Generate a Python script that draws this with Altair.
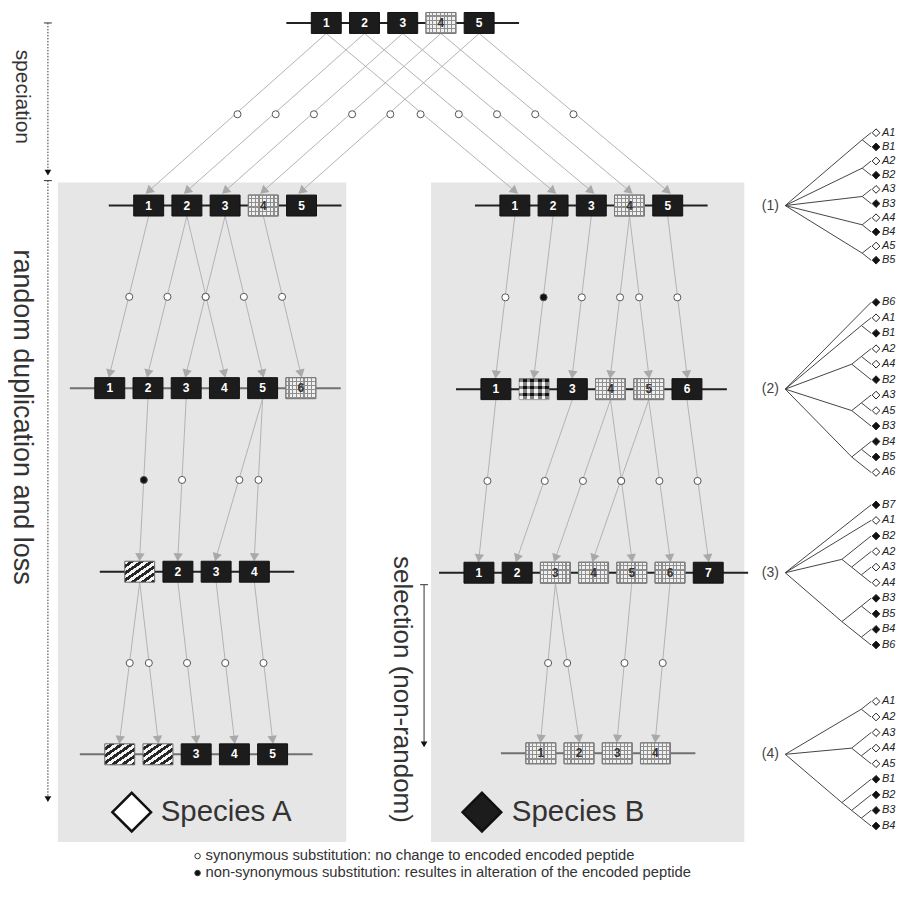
import math
import altair as alt
import pandas as pd

# ---------------- gene rows ----------------
ROW_NAMES = ["T", "A1", "A2", "A3", "A4", "B1", "B2", "B3", "B4"]
ROW_Y = [22, 205, 388, 572, 755, 205, 389, 573, 754]
ROW_FIRST_X = [327, 149, 110, 140, 120, 516, 497, 480, 542]
# K = black exon, G = grid-patterned, H = hatched, C = checkered
ROW_TYPES = ["KKKGK", "KKKGK", "KKKKKG", "HKKK", "HHKKK", "KKKGK", "KCKGGK", "KKGGGGK", "GGGG"]
ROW_LABELS = [
    ["1", "2", "3", "4", "5"],
    ["1", "2", "3", "4", "5"],
    ["1", "2", "3", "4", "5", "6"],
    ["", "2", "3", "4"],
    ["", "", "3", "4", "5"],
    ["1", "2", "3", "4", "5"],
    ["1", "", "3", "4", "5", "6"],
    ["1", "2", "3", "4", "5", "6", "7"],
    ["1", "2", "3", "4"],
]
ROW_LINE_COLOR = ["#222", "#222", "#707070", "#222", "#707070", "#222", "#222", "#222", "#707070"]

# (from row, from box, to row, to box, substitution: s = synonymous, n = non-synonymous)
ARROWS = [
    ("T", 0, "A1", 0, "s"), ("T", 1, "A1", 1, "s"), ("T", 2, "A1", 2, "s"), ("T", 3, "A1", 3, "s"), ("T", 4, "A1", 4, "s"),
    ("T", 0, "B1", 0, "s"), ("T", 1, "B1", 1, "s"), ("T", 2, "B1", 2, "s"), ("T", 3, "B1", 3, "s"), ("T", 4, "B1", 4, "s"),
    ("A1", 0, "A2", 0, "s"), ("A1", 1, "A2", 1, "s"), ("A1", 1, "A2", 3, "s"), ("A1", 2, "A2", 2, "s"), ("A1", 2, "A2", 4, "s"), ("A1", 3, "A2", 5, "s"),
    ("A2", 1, "A3", 0, "n"), ("A2", 2, "A3", 1, "s"), ("A2", 4, "A3", 2, "s"), ("A2", 4, "A3", 3, "s"),
    ("A3", 0, "A4", 0, "s"), ("A3", 0, "A4", 1, "s"), ("A3", 1, "A4", 2, "s"), ("A3", 2, "A4", 3, "s"), ("A3", 3, "A4", 4, "s"),
    ("B1", 0, "B2", 0, "s"), ("B1", 1, "B2", 1, "n"), ("B1", 2, "B2", 2, "s"), ("B1", 3, "B2", 3, "s"), ("B1", 3, "B2", 4, "s"), ("B1", 4, "B2", 5, "s"),
    ("B2", 0, "B3", 0, "s"), ("B2", 2, "B3", 1, "s"), ("B2", 3, "B3", 2, "s"), ("B2", 4, "B3", 3, "s"), ("B2", 3, "B3", 4, "s"), ("B2", 4, "B3", 5, "s"), ("B2", 5, "B3", 6, "s"),
    ("B3", 2, "B4", 0, "s"), ("B3", 2, "B4", 1, "s"), ("B3", 4, "B4", 2, "s"), ("B3", 5, "B4", 3, "s"),
]

# ---------------- gene trees ----------------
TREE_LABELS = ["(1)", "(2)", "(3)", "(4)"]
TREE_ROOT_Y = [205, 389, 573, 755]
TREE_LEAF_Y0 = [132, 302, 505, 702]
TREE_LEAF_STEP = [14.2, 15.5, 15.6, 15.6]
TREES = [
    (("A1", "B1"), ("A2", "B2"), ("A3", "B3"), ("A4", "B4"), ("A5", "B5")),
    ("B6", ("A1", "B1"), (("A2", "A4"), "B2"), (("A3", "A5"), "B3"), (("B4", "B5"), "A6")),
    ("B7", "A1", ("B2", ("A2", ("A3", "A4"))), (("B3", "B5"), ("B4", "B6"))),
    (("A1", "A2"), ("A3", ("A4", "A5")), ("B1", ("B2", ("B3", "B4")))),
]

LEGEND_TEXT = [
    "synonymous substitution: no change to encoded encoded peptide",
    "non-synonymous substitution: resultes in alteration of the encoded peptide",
]
SIDE_TEXT = ["speciation", "random duplication and loss", "selection (non-random)"]
SPECIES_TEXT = ["Species A", "Species B"]

# ---------------- layout constants ----------------
BOX_STEP, BOX_W, BOX_H, LINE_EXT = 38.3, 30, 21, 40
ROOT_X, LEAF_X, TREE_K = 787, 873, 1.25
FONT = "Liberation Sans"

XS = alt.Scale(domain=[8, 896], nice=False, zero=False)
YS = alt.Scale(domain=[8, 892], nice=False, zero=False, reverse=True)


def X(f="x"):
    return alt.X(f + ":Q", scale=XS, axis=None)


def Y(f="y"):
    return alt.Y(f + ":Q", scale=YS, axis=None)


# boxes & row lines
box_rows, line_rows = [], []
centers = {}
for r, name in enumerate(ROW_NAMES):
    types = ROW_TYPES[r]
    cy = ROW_Y[r]
    for i, t in enumerate(types):
        cx = ROW_FIRST_X[r] + i * BOX_STEP
        centers[(name, i)] = (cx, cy)
        box_rows.append(dict(cx=cx, cy=cy, x=cx - BOX_W / 2, x2=cx + BOX_W / 2,
                             y=cy - BOX_H / 2, y2=cy + BOX_H / 2, type=t,
                             label=ROW_LABELS[r][i],
                             tcolor="white" if t == "K" else "#333"))
    line_rows.append(dict(x=ROW_FIRST_X[r] - LINE_EXT,
                          x2=ROW_FIRST_X[r] + (len(types) - 1) * BOX_STEP + LINE_EXT,
                          y=cy, y2=cy, c=ROW_LINE_COLOR[r]))
boxes = pd.DataFrame(box_rows)
lines = pd.DataFrame(line_rows)

arr_rows = []
for fr, fi, tr, ti, kind in ARROWS:
    sx, sy = centers[(fr, fi)]
    ex, ey = centers[(tr, ti)]
    y0 = sy + BOX_H / 2
    y1 = ey - BOX_H / 2 - 4
    ang = math.degrees(math.atan2(-(ex - sx), (y1 - y0))) % 360
    arr_rows.append(dict(x=sx, y=y0, x2=ex, y2=y1, mx=(sx + ex) / 2, my=(y0 + y1 + 4) / 2,
                         ang=ang, fill="white" if kind == "s" else "#111"))
arrows = pd.DataFrame(arr_rows)

# trees
edge_rows, leaf_rows, root_rows = [], [], []
for t, tree in enumerate(TREES):
    counter = [0]

    def place(node, t=t, counter=counter):
        if isinstance(node, str):
            y = TREE_LEAF_Y0[t] + TREE_LEAF_STEP[t] * counter[0]
            counter[0] += 1
            leaf_rows.append(dict(x=LEAF_X + 5, lx=LEAF_X + 11, y=y, label=node,
                                  fill="white" if node[0] == "A" else "#111"))
            return LEAF_X, y, y, y
        kids = [place(c) for c in node]
        ymin = min(k[2] for k in kids)
        ymax = max(k[3] for k in kids)
        y = (ymin + ymax) / 2
        x = LEAF_X - TREE_K * (ymax - ymin) / 2
        for k in kids:
            edge_rows.append(dict(x=x, y=y, x2=k[0], y2=k[1]))
        return x, y, ymin, ymax

    kids = [place(c) for c in tree]
    ry = TREE_ROOT_Y[t]
    for k in kids:
        edge_rows.append(dict(x=ROOT_X, y=ry, x2=k[0], y2=k[1]))
    root_rows.append(dict(x=ROOT_X - 15, y=ry, label=TREE_LABELS[t]))
edges = pd.DataFrame(edge_rows)
leaves = pd.DataFrame(leaf_rows)
roots = pd.DataFrame(root_rows)


def stripes(n, c1, c2, frac, x2, y2):
    stops = []
    for i in range(n):
        a, b, c = i / n, (i + frac) / n, (i + 1) / n
        stops += [alt.GradientStop(color=c1, offset=a), alt.GradientStop(color=c1, offset=b),
                  alt.GradientStop(color=c2, offset=b), alt.GradientStop(color=c2, offset=c)]
    return alt.LinearGradient(gradient="linear", stops=stops, x1=0, y1=0, x2=x2, y2=y2)


CLEAR = "rgba(255,255,255,0)"

layers = []

# panels
panels = pd.DataFrame(dict(x=[58, 432], x2=[347, 746], y=[182, 182], y2=[843, 843]))
layers.append(alt.Chart(panels).mark_rect(color="#e6e6e6").encode(
    x=X(), x2="x2:Q", y=Y(), y2="y2:Q"))

# arrows
layers.append(alt.Chart(arrows).mark_rule(color="#b3b3b3", strokeWidth=1).encode(
    x=X(), x2="x2:Q", y=Y(), y2="y2:Q"))
layers.append(alt.Chart(arrows).mark_point(shape="triangle-down", filled=True, size=90,
                                           color="#a9a9a9", opacity=1).encode(
    x=X("x2"), y=Y("y2"), angle=alt.Angle("ang:Q", scale=None)))

# row lines
layers.append(alt.Chart(lines).mark_rule(strokeWidth=2).encode(
    x=X(), x2="x2:Q", y=Y(), y2="y2:Q", color=alt.Color("c:N", scale=None)))

# boxes
enc = dict(x=X(), x2="x2:Q", y=Y(), y2="y2:Q")
kb = boxes[boxes.type == "K"]
gb = boxes[boxes.type == "G"]
hb = boxes[boxes.type == "H"]
cb = boxes[boxes.type == "C"]
layers.append(alt.Chart(kb).mark_rect(fill="#1c1c1c", stroke="#111", strokeWidth=1).encode(**enc))
layers.append(alt.Chart(gb).mark_rect(fill="#f0f0f0", stroke="#7a7a7a", strokeWidth=1).encode(**enc))
layers.append(alt.Chart(gb).mark_rect(fill=stripes(8, CLEAR, "#8f8f8f", 0.7, 1, 0)).encode(**enc))
layers.append(alt.Chart(gb).mark_rect(fill=stripes(5, CLEAR, "#8f8f8f", 0.7, 0, 1),
                                      stroke="#7a7a7a", strokeWidth=1).encode(**enc))
layers.append(alt.Chart(hb).mark_rect(fill=stripes(6, "#f4f4f4", "#262626", 0.5, 1, 1),
                                      stroke="#666", strokeWidth=1).encode(**enc))
layers.append(alt.Chart(cb).mark_rect(fill=stripes(3, "#111", "#f4f4f4", 0.5, 0, 1)).encode(**enc))
layers.append(alt.Chart(cb).mark_rect(fill=stripes(4, "#f4f4f4", "#111", 0.5, 1, 0), opacity=0.5,
                                      stroke="#555", strokeWidth=1).encode(**enc))
layers.append(alt.Chart(boxes).mark_text(font=FONT, fontSize=12, fontWeight="bold",
                                         baseline="middle", align="center").encode(
    x=X("cx"), y=Y("cy"), text="label:N", color=alt.Color("tcolor:N", scale=None)))

# substitution circles
layers.append(alt.Chart(arrows).mark_point(shape="circle", filled=True, size=50, stroke="#555",
                                           strokeWidth=1, opacity=1).encode(
    x=X("mx"), y=Y("my"), fill=alt.Fill("fill:N", scale=None)))

# trees
layers.append(alt.Chart(edges).mark_rule(color="#444", strokeWidth=1).encode(
    x=X(), x2="x2:Q", y=Y(), y2="y2:Q"))
layers.append(alt.Chart(leaves).mark_point(shape="diamond", filled=True, size=60, stroke="#222",
                                           strokeWidth=1, opacity=1).encode(
    x=X(), y=Y(), fill=alt.Fill("fill:N", scale=None)))
layers.append(alt.Chart(leaves).mark_text(font=FONT, fontSize=11, fontStyle="italic", align="left",
                                          baseline="middle", color="#222").encode(
    x=X("lx"), y=Y(), text="label:N"))
layers.append(alt.Chart(roots).mark_text(font=FONT, fontSize=14, align="center",
                                         baseline="middle", color="#444").encode(
    x=X(), y=Y(), text="label:N"))

# process arrows on the left and under species B
proc = pd.DataFrame(dict(x=[48, 48, 425], x2=[48, 48, 425], y=[22, 180, 585], y2=[172, 800, 745],
                         dash=["d", "d", "s"]))
layers.append(alt.Chart(proc[proc.dash == "d"]).mark_rule(color="#333", strokeWidth=1,
                                                          strokeDash=[1.5, 1.5]).encode(
    x=X(), x2="x2:Q", y=Y(), y2="y2:Q"))
layers.append(alt.Chart(proc[proc.dash == "s"]).mark_rule(color="#333", strokeWidth=1).encode(
    x=X(), x2="x2:Q", y=Y(), y2="y2:Q"))
ticks = proc.assign(xa=proc.x - 4, xb=proc.x + 4)
layers.append(alt.Chart(ticks).mark_rule(color="#333", strokeWidth=1).encode(
    x=X("xa"), x2="xb:Q", y=Y(), y2="y:Q"))
layers.append(alt.Chart(proc).mark_point(shape="triangle-down", filled=True, size=45,
                                         color="#111", opacity=1).encode(x=X("x2"), y=Y("y2")))

side = pd.DataFrame(dict(x=[22, 22, 403], y=[96, 417, 690], label=SIDE_TEXT, fs=[21, 27, 26]))
for fs in sorted(set(side.fs)):
    layers.append(alt.Chart(side[side.fs == fs]).mark_text(font=FONT, fontSize=fs, angle=90,
                                                           align="center", baseline="middle",
                                                           color="#333").encode(
        x=X(), y=Y(), text="label:N"))

# species labels
species = pd.DataFrame(dict(x=[132, 483], tx=[161, 513], y=[813, 813],
                            fill=["white", "#1c1c1c"], label=SPECIES_TEXT))
layers.append(alt.Chart(species).mark_point(shape="diamond", filled=True, size=1500, stroke="#111",
                                            strokeWidth=2.5, opacity=1).encode(
    x=X(), y=Y(), fill=alt.Fill("fill:N", scale=None)))
layers.append(alt.Chart(species).mark_text(font=FONT, fontSize=29.5, align="left", baseline="middle",
                                           color="#333").encode(x=X("tx"), y=Y(), text="label:N"))

# bottom legend
legend = pd.DataFrame(dict(x=[198, 198], tx=[206, 206], y=[857, 874], label=LEGEND_TEXT,
                           fill=["white", "#111"]))
layers.append(alt.Chart(legend).mark_point(shape="circle", filled=True, size=30, stroke="#333",
                                           strokeWidth=1, opacity=1).encode(
    x=X(), y=Y(), fill=alt.Fill("fill:N", scale=None)))
layers.append(alt.Chart(legend).mark_text(font=FONT, fontSize=14.8, align="left", baseline="middle",
                                          color="#333").encode(x=X("tx"), y=Y(), text="label:N"))

chart = alt.layer(*layers).properties(width=888, height=884, padding=0,
                                      background="white").configure_view(stroke=None)

chart.save("out.html", embed_options={"renderer": "svg", "actions": False})
